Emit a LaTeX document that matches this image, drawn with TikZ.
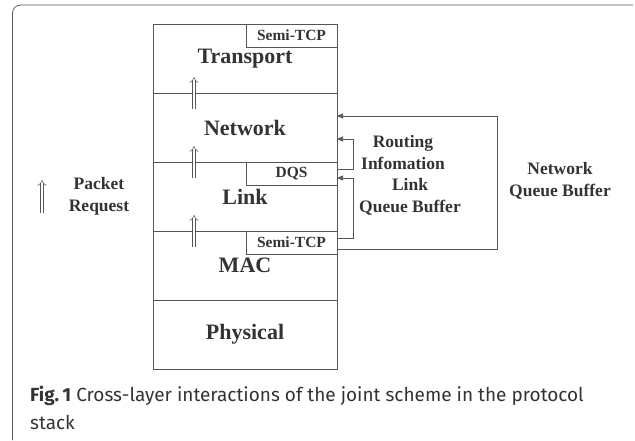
\documentclass[tikz,border=0pt]{standalone}
\usepackage{fontspec}
\setmainfont{Liberation Serif}
\newfontfamily\capfont{Fira Sans}
\usepackage{tikz}
\usetikzlibrary{arrows.meta, positioning}

\definecolor{ink}{HTML}{333333}
\definecolor{rule}{HTML}{555555}

\begin{document}
\begin{tikzpicture}[
    x=1pt, y=1pt,
    node distance=0pt,
    layer/.style={rectangle, draw=rule, line width=0.7pt, outer sep=0pt, text=ink,
                  minimum width=184pt, minimum height=69pt,
                  font=\fontsize{22}{24}\selectfont\bfseries},
    tag/.style={rectangle, draw=rule, line width=0.7pt, outer sep=0pt, text=ink, fill=white,
                minimum width=91pt, minimum height=23pt, inner sep=0pt,
                font=\fontsize{15.5}{17}\selectfont\bfseries},
    note/.style={align=center, text=ink, font=\fontsize{17.5}{22}\selectfont\bfseries},
    arr/.style={-{Triangle[length=6pt,width=5pt]}, draw=rule, line width=0.7pt},
    pkt/.style={-{Implies}, draw=rule, double, double distance=2.6pt, line width=0.5pt},
    frame/.style={draw=rule, line width=0.7pt, rounded corners=8pt}
]
\useasboundingbox (0,0) rectangle (635,440);
\draw[frame] (12.5,0) -- (12.5,435) -- (633,435);

% protocol stack
\node[layer, anchor=north west] (tra) at (153,416) {Transport};
\node[layer, below=of tra] (net) {Network};
\node[layer, below=of net] (lnk) {Link};
\node[layer, below=of lnk] (mac) {MAC};
\node[layer, below=of mac] (phy) {Physical};

\node[tag, anchor=north east] (sta) at (tra.north east) {Semi-TCP};
\node[tag, anchor=north east] (dqs) at (lnk.north east) {DQS};
\node[tag, anchor=north east] (stb) at (mac.north east) {Semi-TCP};

% packet requests
\foreach \l in {net,lnk,mac}
  \draw[pkt] ([xshift=41pt,yshift=-16pt]\l.north west) -- ++(0,32);

\coordinate (leg) at (42,227);
\draw[pkt] (leg) -- ++(0,33);
\node[note] (legtxt) at (99,243.5) {Packet\\Request};

% cross-layer feedback
\draw[arr] ([yshift=-6.5pt]stb.east) -- ++(160,0) |- ([yshift=11.5pt]net.east);
\draw[arr] ([yshift=4.5pt]dqs.east) -- ++(16,0) |- ([yshift=-11.5pt]net.east);
\draw[arr] ([yshift=4.5pt]stb.east) -- ++(16,0) |- ([yshift=-4.5pt]dqs.east);

\node[note] (rout) at (403,287) {Routing\\Infomation};
\node[note] (lqb)  at (410,243.5) {Link\\Queue Buffer};
\node[note] (nqb)  at (560,259.5) {Network\\Queue Buffer};

% caption
\node[anchor=base west, align=left, inner sep=0pt, text=ink,
      font=\capfont\fontsize{19}{28}\selectfont] (cap) at (30,11)
  {{\bfseries Fig.\,1} Cross-layer interactions of the joint scheme in the protocol\\stack};
\end{tikzpicture}
\end{document}
